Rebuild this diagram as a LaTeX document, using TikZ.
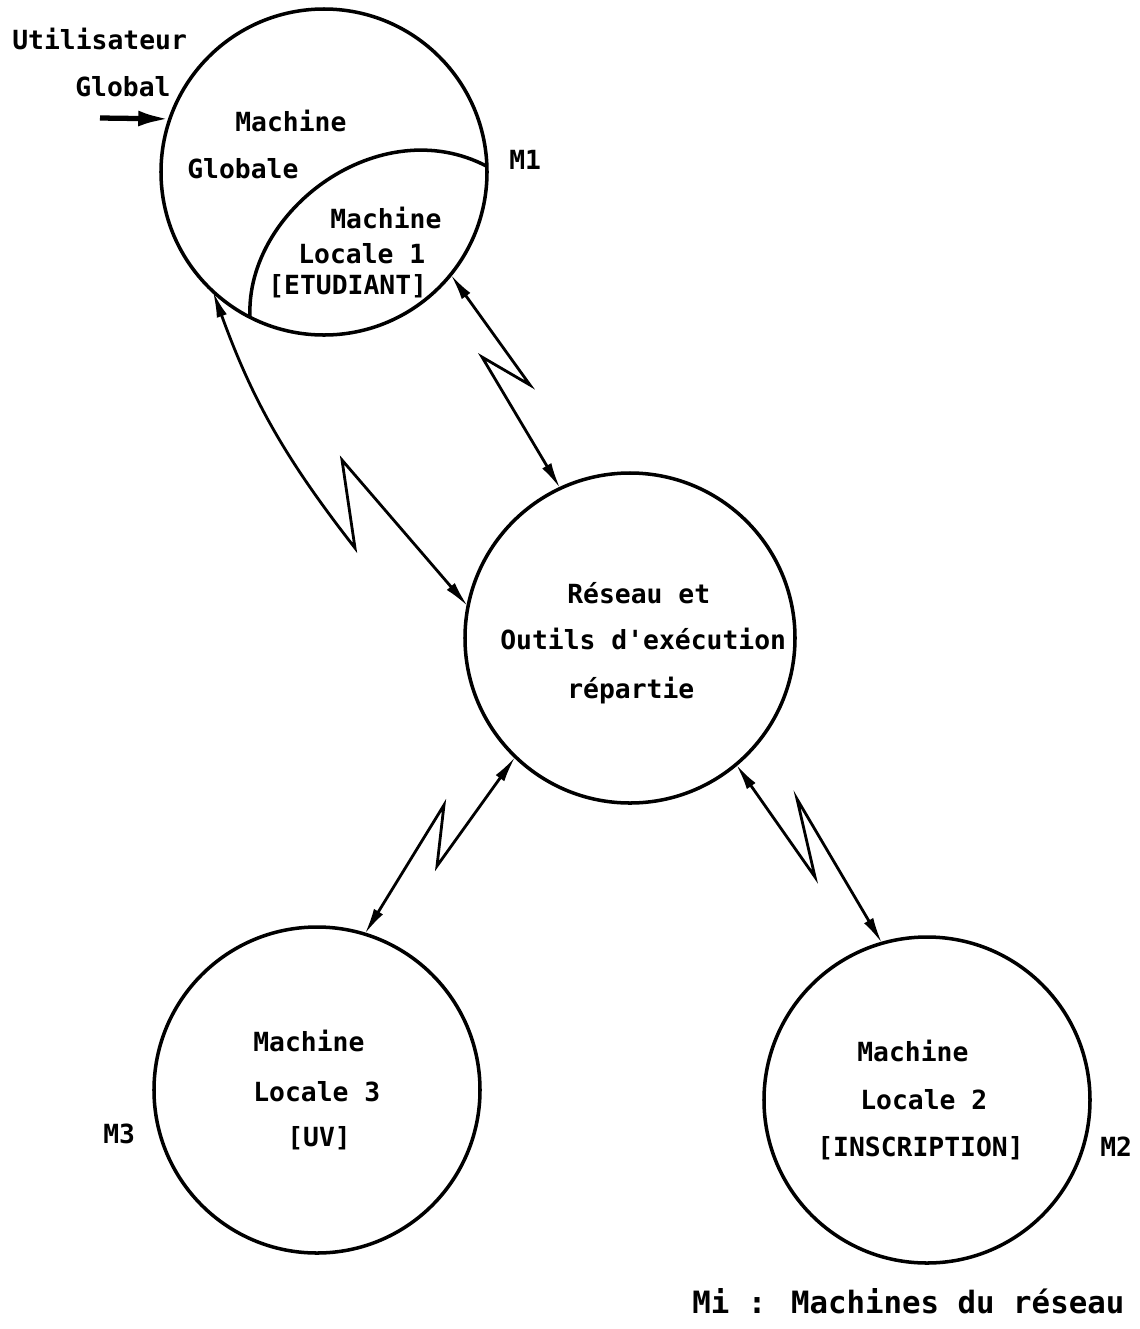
\documentclass[tikz,border=0pt]{standalone}
\usepackage{fontspec}
\setmainfont{DejaVu Sans Mono}[Ligatures=TeXOff]
\usepackage{tikz}
\usetikzlibrary{arrows.meta}
\usetikzlibrary{positioning}
\tikzset{
% Define standard arrow tip
>={Latex[length=15pt, width=6pt]}
}

\begin{document}
\begin{tikzpicture}[x=0.2mm, y=-0.2mm,
    machine/.style={circle, draw=black, line width=2pt,
      minimum size=65.2mm, inner sep=0, outer sep=0},
    txt/.style={anchor=west, inner sep=0, text height=0.73em, text depth=0pt,
      font=\fontsize{15}{18}\selectfont\bfseries},
    link/.style={<->, line width=1.6pt, line join=miter}]
  \useasboundingbox (0,0) rectangle (1140,1329);

  \node[machine] (M1) at (324,172) {};
  \node[machine, minimum size=66mm] (reseau) at (630,638) {};
  \node[machine] (M3) at (317,1090) {};
  \node[machine] (M2) at (927,1100) {};

  % machine locale 1 inside M1
  \draw[line width=2pt] (M1.-117) .. controls (245,210) and (380,110) .. (M1.2);

  \node[txt] (glob1) at (235,125) {Machine};
  \node[txt] (glob2) at (187,172) {Globale};
  \node[txt] (loc1a) at (330,222) {Machine};
  \node[txt] (loc1b) at (298,257) {Locale 1};
  \node[txt] (loc1c) at (268,288) {[ETUDIANT]};
  \node[txt] (M1lbl) at (509,163) {M1};

  \node[txt] (user1) at (12,43) {Utilisateur};
  \node[txt] (user2) at (75,90) {Global};
  \coordinate (entree) at (100,118);
  \draw[-{Latex[length=18pt, width=9pt]}, line width=3pt] (entree) -- (M1.161);

  \node[txt] (res1) at (567,597) {Réseau et};
  \node[txt] (res2) at (500,643) {Outils d'exécution};
  \node[txt] (res3) at (567,692) {répartie};

  \node[txt] (loc3a) at (253,1045) {Machine};
  \node[txt] (loc3b) at (253,1095) {Locale 3};
  \node[txt] (loc3c) at (287,1140) {[UV]};
  \node[txt] (M3lbl) at (103,1137) {M3};

  \node[txt] (loc2a) at (857,1055) {Machine};
  \node[txt] (loc2b) at (860,1103) {Locale 2};
  \node[txt] (loc2c) at (817,1150) {[INSCRIPTION]};
  \node[txt] (M2lbl) at (1100,1150) {M2};

  \node[txt, font=\fontsize{17.5}{20}\selectfont\bfseries] (legende) at (692,1307) {Mi : Machines du réseau};

  % liaisons reseau
  \coordinate (zA1) at (355,548);
  \coordinate (zA2) at (342,460);
  \coordinate (zB1) at (530,385);
  \coordinate (zB2) at (482,357);
  \coordinate (zC1) at (437,866);
  \coordinate (zC2) at (444,805);
  \coordinate (zD1) at (815,877);
  \coordinate (zD2) at (797,799);

  \draw[link] (M1.-133) to[bend right=9] (zA1) -- (zA2) -- (reseau.169);
  \draw[link] (M1.-39) -- (zB1) -- (zB2) -- (reseau.115);
  \draw[link] (reseau.-134) -- (zC1) -- (zC2) -- (M3.73);
  \draw[link] (reseau.-50) -- (zD1) -- (zD2) -- (M2.106);
\end{tikzpicture}
\end{document}
